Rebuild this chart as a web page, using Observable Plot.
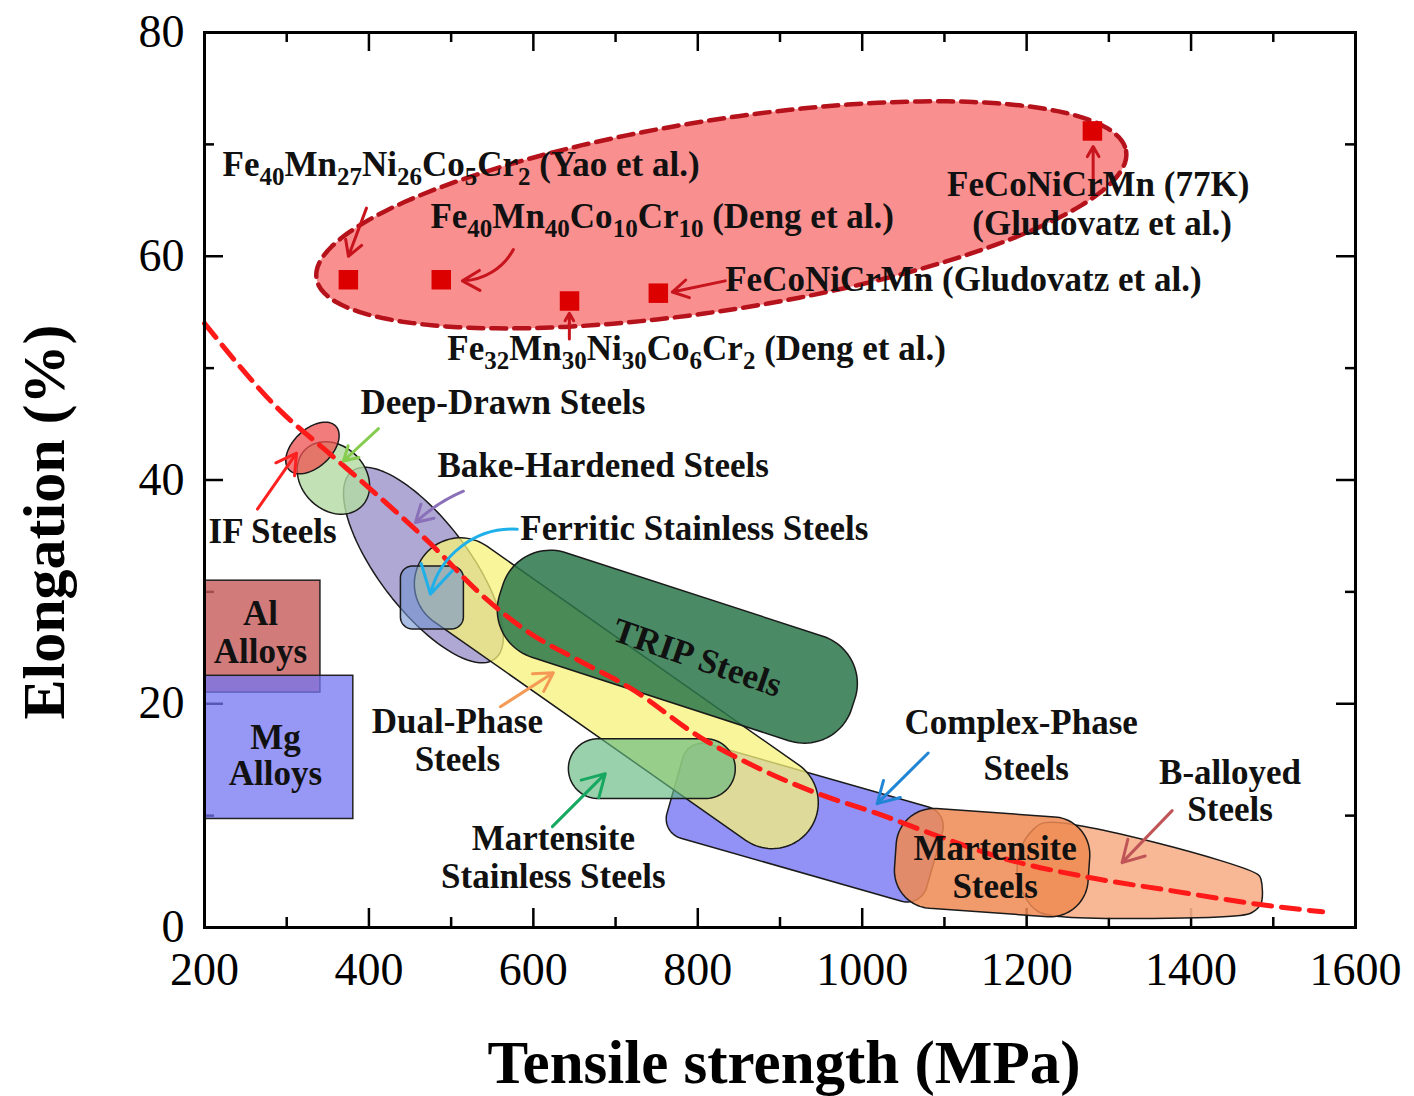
<!DOCTYPE html>
<html>
<head>
<meta charset="utf-8">
<script src="https://cdn.jsdelivr.net/npm/d3@7"></script>
<script src="https://cdn.jsdelivr.net/npm/@observablehq/plot@0.6"></script>
<style>
  html, body { margin: 0; padding: 0; background: #fff; }
</style>
</head>
<body>
<div id="chart"></div>
<script>
// ---------- axes ----------
const xMajor = [200, 400, 600, 800, 1000, 1200, 1400, 1600];
const xMinor = [300, 500, 700, 900, 1100, 1300, 1500];
const yMajor = [0, 20, 40, 60, 80];
const yMinor = [10, 30, 50, 70];

// ---------- fitted trend ----------
const fitX = [200, 292, 353, 414, 475, 536, 596, 657, 718, 803, 872, 945, 1018, 1091, 1171, 1274, 1375, 1484, 1560];
const fitY = [54.0, 46.2, 42.3, 38.4, 34.3, 29.8, 26.3, 23.8, 21.4, 17.0, 14.3, 12.0, 10.2, 8.2, 6.2, 4.5, 3.3, 2.05, 1.4];

// ---------- high-entropy alloy points ----------
const heaNames = ["Yao", "Deng40", "Deng32", "Gludovatz", "Gludovatz77K"];
const heaX = [375, 488, 644, 752, 1280];
const heaY = [57.9, 57.9, 56.0, 56.7, 71.2];

// HEA envelope ellipse: centre and conjugate half-axes (data units)
const heaEnvCenter = [828.6, 63.7];
const heaEnvU = [492.4, 5.7];
const heaEnvV = [18, -8.4];

// ---------- Al / Mg alloy boxes (MPa, %) ----------
const boxNames = ["Al", "Mg"];
const boxX1 = [200, 200];
const boxX2 = [341, 381];
const boxY1 = [21, 9.7];
const boxY2 = [31, 22.5];

// ---------- steel regions: centre, half-axis vectors (data units), rounding ----------
const regionNames = ["Complex-Phase", "Martensite", "Bake-Hardened", "Deep-Drawn", "IF", "Dual-Phase", "Martensite Stainless", "TRIP", "Ferritic Stainless"];
const regionCx = [930.1, 1158.0, 466.3, 356.8, 331.3, 700.9, 744.1, 775.1, 476.6];
const regionCy = [9.375, 5.80, 32.4, 40.18, 42.86, 20.94, 14.2, 25.1, 29.5];
const regionUx = [157.9, 117.7, 86.9, 34.4, 28.4, 235.5, 101.5, 214, 38.3];
const regionUy = [-3.31, -0.61, -8.39, -2.53, 1.95, -12.14, 0, -5.11, 0];
const regionVx = [-16.4, -4.26, -43.6, -27.5, 15.7, -32.2, 0, -20.7, 0];
const regionVy = [-4.21, -4.46, -2.44, -2.02, -1.24, -3.37, -2.68, -4.67, -2.81];
const regionRu = [0.15, 0.39, 1, 1, 1, 0.195, 0.36, 0.27, 0.38];
const regionRv = [0.41, 0.76, 1, 1, 1, 1, 1, 0.9, 0.38];

// B-alloyed steels outline (MPa, %)
const bAlloyX = [1222.5, 1481.5, 1485.1, 1485.1, 1474.2, 1459.6, 1240.7, 1214.0, 1197.0, 1188.4, 1194.5, 1206.7];
const bAlloyY = [9.375, 4.73, 4.29, 2.14, 1.34, 1.07, 0.98, 1.43, 2.86, 5.09, 7.32, 8.66];

// ---------- arrows ----------
const arrowNames = ["IF", "Deep", "Bake", "Ferritic", "Dual", "MartSS", "Complex", "Balloy", "Yao", "Deng40", "Deng32", "Glud", "Glud77"];
const arrowX1 = [264.4, 411.6, 514.9, 580.5, 559.9, 623.1, 1080.2, 1377.0, 397.0, 575.7, 643.8, 833.4, 1280.9];
const arrowY1 = [37.4, 44.6, 39.0, 35.6, 19.73, 9.02, 15.6, 10.45, 64.3, 60.6, 52.6, 57.8, 66.7];
const arrowX2 = [311.9, 369.0, 456.5, 474.8, 624.3, 687.5, 1018.2, 1316.1, 375.1, 513.7, 643.8, 769.0, 1280.9];
const arrowY2 = [42.4, 41.7, 36.2, 29.8, 22.77, 13.75, 11.07, 5.80, 60.0, 57.8, 54.9, 56.8, 69.8];
const arrowBend = [0, 0, -10, -40, 0, 0, 0, 0, 0, 30, 0, 0, 0];

// ---------- labels ----------
const startLabels = [
  "Fe_40Mn_27Ni_26Co_5Cr_2 (Yao et al.)",
  "Fe_40Mn_40Co_10Cr_10 (Deng et al.)",
  "FeCoNiCrMn (Gludovatz et al.)",
  "Fe_32Mn_30Ni_30Co_6Cr_2 (Deng et al.)",
  "Deep-Drawn Steels",
  "Bake-Hardened Steels",
  "IF Steels",
  "Ferritic Stainless Steels"
];
const startLabelX = [221.9, 474.8, 833.4, 495.4, 389.7, 483.3, 204.9, 584.2];
const startLabelY = [68.2, 63.5, 57.9, 51.7, 46.9, 41.25, 35.4, 35.6];

const midLabels = ["FeCoNiCrMn (77K)", "(Gludovatz et al.)", "Al", "Alloys", "Mg", "Alloys", "Dual-Phase", "Steels", "Martensite", "Stainless Steels", "Complex-Phase", "Steels", "B-alloyed", "Steels", "Martensite", "Steels"];
const midLabelX = [1287.0, 1291.8, 268.1, 268.1, 286.3, 286.3, 507.6, 507.6, 624.3, 624.3, 1193.3, 1199.4, 1447.4, 1447.4, 1161.7, 1161.7];
const midLabelY = [66.4, 62.9, 28.0, 24.6, 17.0, 13.7, 18.4, 15.0, 7.95, 4.55, 18.3, 14.2, 13.8, 10.5, 7.05, 3.66];

const tripLabel = ["TRIP Steels"];
const tripLabelX = [799.4];
const tripLabelY = [24.1];

// ---------- styles ----------
const regionStyle = {
  "Complex-Phase": {fill: "#7f7ff5", op: 0.85},
  "Martensite": {fill: "#ee8a52", op: 0.85},
  "Bake-Hardened": {fill: "#9890c8", op: 0.78},
  "Deep-Drawn": {fill: "#b3dba3", op: 0.8},
  "IF": {fill: "#ee5050", op: 0.75},
  "Dual-Phase": {fill: "#f7f27a", op: 0.75},
  "Martensite Stainless": {fill: "#62b880", op: 0.65},
  "TRIP": {fill: "#2a774b", op: 0.85},
  "Ferritic Stainless": {fill: "#6f93cf", op: 0.6}
};
const boxStyle = {Al: {fill: "#c85e5e", op: 0.82}, Mg: {fill: "#7474f2", op: 0.75}};
const arrowColor = {IF: "#ff2020", Deep: "#86cc4e", Bake: "#8a70b8", Ferritic: "#1fb0ea", Dual: "#f59a55", MartSS: "#16a860", Complex: "#2085d5", Balloy: "#c05558",
  Yao: "#c8141c", Deng40: "#c8141c", Deng32: "#c8141c", Glud: "#c8141c", Glud77: "#c8141c"};

// ---------- layout ----------
const W = 1414, H = 1096;
const mL = 204, mR = 59, mT = 32, mB = 169;
const frameW = W - mL - mR;
const frameH = H - mT - mB;
const serif = "'Liberation Serif', 'Times New Roman', serif";

// outline of an affine-mapped rounded rectangle (ellipse when ru = rv = 1)
function outline(cx, cy, ux, uy, vx, vy, ru, rv, n = 24) {
  const pts = [];
  const corners = [[1, 1, 0], [-1, 1, 90], [-1, -1, 180], [1, -1, 270]];
  for (const [sx, sy, a0] of corners) {
    for (let i = 0; i <= n; i++) {
      const a = (a0 + 90 * i / n) * Math.PI / 180;
      const p = sx * (1 - ru) + ru * Math.cos(a);
      const q = sy * (1 - rv) + rv * Math.sin(a);
      pts.push({x: cx + ux * p + vx * q, y: cy + uy * p + vy * q});
    }
  }
  return pts;
}

const marks = [];

// inward ticks (all four sides)
marks.push(Plot.tickX(xMajor, {x: d => d, insetTop: frameH - 19, strokeWidth: 2.5}));
marks.push(Plot.tickX(xMajor, {x: d => d, insetBottom: frameH - 19, strokeWidth: 2.5}));
marks.push(Plot.tickX(xMinor, {x: d => d, insetTop: frameH - 10, strokeWidth: 2.5}));
marks.push(Plot.tickX(xMinor, {x: d => d, insetBottom: frameH - 10, strokeWidth: 2.5}));
marks.push(Plot.tickY(yMajor, {y: d => d, insetRight: frameW - 19, strokeWidth: 2.5}));
marks.push(Plot.tickY(yMajor, {y: d => d, insetLeft: frameW - 19, strokeWidth: 2.5}));
marks.push(Plot.tickY(yMinor, {y: d => d, insetRight: frameW - 10, strokeWidth: 2.5}));
marks.push(Plot.tickY(yMinor, {y: d => d, insetLeft: frameW - 10, strokeWidth: 2.5}));

// Al, Mg boxes
boxNames.forEach((n, i) => {
  marks.push(Plot.rect([{x1: boxX1[i], x2: boxX2[i], y1: boxY1[i], y2: boxY2[i]}], {
    x1: "x1", x2: "x2", y1: "y1", y2: "y2",
    fill: boxStyle[n].fill, fillOpacity: boxStyle[n].op, stroke: "#222", strokeWidth: 1.5
  }));
});

function regionMark(name) {
  const i = regionNames.indexOf(name);
  const pts = outline(regionCx[i], regionCy[i], regionUx[i], regionUy[i], regionVx[i], regionVy[i], regionRu[i], regionRv[i]);
  return Plot.line(pts, {x: "x", y: "y", curve: "linear-closed",
    fill: regionStyle[name].fill, fillOpacity: regionStyle[name].op, stroke: "#1a1a1a", strokeWidth: 1.5});
}

marks.push(regionMark("Complex-Phase"));
marks.push(Plot.line(bAlloyX.map((x, i) => ({x, y: bAlloyY[i]})), {
  x: "x", y: "y", curve: "catmull-rom-closed", fill: "#f7b08a", fillOpacity: 0.9, stroke: "#1a1a1a", strokeWidth: 1.5
}));
marks.push(regionMark("Martensite"));
marks.push(regionMark("Bake-Hardened"));
marks.push(regionMark("Deep-Drawn"));
marks.push(regionMark("IF"));
marks.push(regionMark("Dual-Phase"));
marks.push(regionMark("Martensite Stainless"));
marks.push(regionMark("TRIP"));
marks.push(regionMark("Ferritic Stainless"));

// HEA envelope
marks.push(Plot.line(outline(heaEnvCenter[0], heaEnvCenter[1], heaEnvU[0], heaEnvU[1], heaEnvV[0], heaEnvV[1], 1, 1, 40), {
  x: "x", y: "y", curve: "linear-closed", fill: "#f98686", fillOpacity: 0.92,
  stroke: "#b5121b", strokeWidth: 4.5, strokeDasharray: "15,8"
}));

// fitted trend
marks.push(Plot.line(fitX.map((x, i) => ({x, y: fitY[i]})), {
  x: "x", y: "y", curve: "monotone-x", stroke: "#ff1a1a", strokeWidth: 5, strokeDasharray: "18,10"
}));

// HEA points
marks.push(Plot.dot(heaNames.map((n, i) => ({x: heaX[i], y: heaY[i]})), {
  x: "x", y: "y", symbol: "square", r: 11, fill: "#dc0000", stroke: "none"
}));

// arrows
arrowNames.forEach((n, i) => {
  marks.push(Plot.arrow([{x1: arrowX1[i], y1: arrowY1[i], x2: arrowX2[i], y2: arrowY2[i]}], {
    x1: "x1", y1: "y1", x2: "x2", y2: "y2", bend: arrowBend[i],
    stroke: arrowColor[n], strokeWidth: 3, headLength: 16
  }));
});

// labels
marks.push(Plot.text(startLabels.map((t, i) => ({t, x: startLabelX[i], y: startLabelY[i]})), {
  x: "x", y: "y", text: "t", textAnchor: "start", fontSize: 35, fontWeight: "bold", fontFamily: serif, fill: "#111"
}));
marks.push(Plot.text(midLabels.map((t, i) => ({t, x: midLabelX[i], y: midLabelY[i]})), {
  x: "x", y: "y", text: "t", textAnchor: "middle", fontSize: 35, fontWeight: "bold", fontFamily: serif, fill: "#111"
}));
marks.push(Plot.text(tripLabel.map((t, i) => ({t, x: tripLabelX[i], y: tripLabelY[i]})), {
  x: "x", y: "y", text: "t", textAnchor: "middle", rotate: 19, fontSize: 35, fontWeight: "bold", fontFamily: serif, fill: "#111"
}));

// axis titles
marks.push(Plot.text(["Tensile strength (MPa)"], {
  text: d => d, frameAnchor: "bottom", textAnchor: "middle", lineAnchor: "middle", dx: 4, dy: 136,
  fontSize: 61, fontWeight: "bold", fontFamily: serif
}));
marks.push(Plot.text(["Elongation (%)"], {
  text: d => d, frameAnchor: "left", textAnchor: "middle", lineAnchor: "middle", rotate: -90, dx: -160, dy: 42,
  fontSize: 60, fontWeight: "bold", fontFamily: serif
}));

marks.push(Plot.frame({stroke: "black", strokeWidth: 3}));

const chart = Plot.plot({
  width: W, height: H,
  marginLeft: mL, marginRight: mR, marginTop: mT, marginBottom: mB,
  style: {fontFamily: serif, fontSize: "46px", background: "white", color: "black", overflow: "visible"},
  x: {domain: [200, 1600], ticks: xMajor, tickFormat: d => String(d), tickSize: 0, tickPadding: 25, label: null},
  y: {domain: [0, 80], ticks: yMajor, tickFormat: d => String(d), tickSize: 0, tickPadding: 20, label: null},
  marks
});

// chemical-formula subscripts: "_40" -> subscript tspan
const SVGNS = "http://www.w3.org/2000/svg";
chart.querySelectorAll("text").forEach(t => {
  if (t.children.length === 0 && t.textContent.includes("_")) {
    const s = t.textContent;
    t.textContent = "";
    let prevSub = false;
    s.split(/(_\d+)/).forEach(p => {
      if (!p) return;
      const ts = document.createElementNS(SVGNS, "tspan");
      if (p.startsWith("_")) {
        ts.textContent = p.slice(1);
        ts.setAttribute("font-size", "25");
        ts.setAttribute("dy", prevSub ? "0" : "9");
        prevSub = true;
      } else {
        ts.textContent = p;
        if (prevSub) ts.setAttribute("dy", "-9");
        prevSub = false;
      }
      t.appendChild(ts);
    });
  }
});

document.getElementById("chart").append(chart);
</script>
</body>
</html>
